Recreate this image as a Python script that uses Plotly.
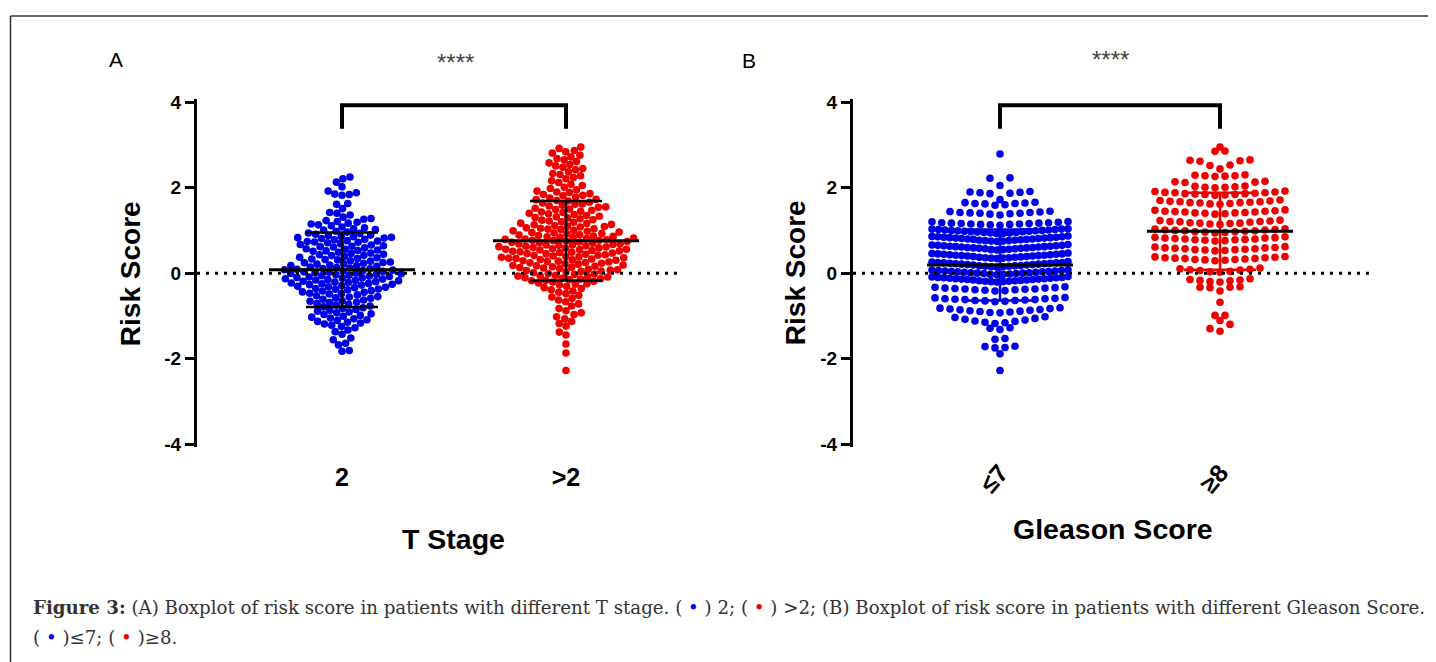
import numpy as np
import plotly.graph_objects as go

W, H = 1436, 662

# ---------------- data ----------------
t_stage_labels = ["2", "&gt;2"]
gleason_labels = ["≤7", "≥8"]
y_tick_values = [-4, -2, 0, 2, 4]
y_tick_text = ["-4", "-2", "0", "2", "4"]

# Panel A: risk score, T stage 2
risk_t_stage_2 = [
    2.25, 2.21, 2.13, 2.02, 1.92, 1.88, 1.85, 1.84, 1.82, 1.63, 1.61, 1.51, 1.42, 1.40,
    1.36, 1.31, 1.28, 1.26, 1.23, 1.21, 1.19, 1.17, 1.15, 1.13, 1.11,
    1.08, 1.06, 1.04, 1.02, 1.01, 0.98, 0.96, 0.94, 0.93, 0.91,
    0.89, 0.88, 0.86, 0.85, 0.84, 0.83, 0.82, 0.81, 0.79, 0.78, 0.76, 0.75, 0.74, 0.73, 0.72, 0.71,
    0.69, 0.67, 0.66, 0.64, 0.63, 0.62, 0.61, 0.59, 0.57, 0.56, 0.54, 0.53, 0.52, 0.51,
    0.49, 0.47, 0.46, 0.44, 0.43, 0.42, 0.41, 0.39, 0.37, 0.36, 0.34, 0.33, 0.32, 0.31,
    0.29, 0.28, 0.26, 0.25, 0.24, 0.23, 0.22, 0.21, 0.19, 0.18, 0.17, 0.16, 0.14, 0.13, 0.12, 0.11, 0.10,
    0.09, 0.08, 0.07, 0.06, 0.05, 0.04, 0.03, 0.02, 0.01, 0.00,
    -0.01, -0.02, -0.03, -0.04, -0.05, -0.06, -0.07, -0.08, -0.09, -0.10,
    -0.11, -0.12, -0.13, -0.14, -0.15, -0.16, -0.17, -0.18, -0.19, -0.20,
    -0.21, -0.22, -0.23, -0.24, -0.25, -0.26, -0.27, -0.28, -0.29,
    -0.31, -0.32, -0.33, -0.34, -0.36, -0.37, -0.38, -0.39,
    -0.41, -0.42, -0.44, -0.45, -0.47, -0.48, -0.49, -0.51, -0.53, -0.55, -0.56, -0.58, -0.59,
    -0.61, -0.63, -0.65, -0.66, -0.68, -0.69, -0.71, -0.73, -0.75, -0.77, -0.79,
    -0.81, -0.83, -0.85, -0.87, -0.89, -0.91, -0.93, -0.95, -0.97, -0.99,
    -1.01, -1.03, -1.05, -1.07, -1.09, -1.11, -1.13, -1.15, -1.17, -1.19,
    -1.22, -1.25, -1.28, -1.33, -1.37, -1.43, -1.52, -1.56, -1.64, -1.68, -1.81, -1.83,
]

# Panel A: risk score, T stage >2
risk_t_stage_gt2 = [
    2.95, 2.92, 2.87, 2.84, 2.81, 2.76, 2.72, 2.68, 2.65, 2.61, 2.58, 2.54, 2.51,
    2.48, 2.45, 2.42, 2.37, 2.33, 2.31, 2.28, 2.24, 2.21, 2.16, 2.12, 2.08, 2.05, 2.01,
    1.98, 1.95, 1.92, 1.90, 1.89, 1.86, 1.84, 1.82, 1.81, 1.78, 1.76, 1.73, 1.72, 1.70,
    1.69, 1.66, 1.64, 1.62, 1.61, 1.59, 1.57, 1.55, 1.54, 1.52, 1.50,
    1.49, 1.47, 1.45, 1.43, 1.42, 1.40, 1.39, 1.37, 1.35, 1.33, 1.32, 1.30,
    1.29, 1.27, 1.25, 1.24, 1.22, 1.20, 1.19, 1.17, 1.16, 1.14, 1.13, 1.11, 1.10,
    1.09, 1.08, 1.06, 1.05, 1.04, 1.03, 1.02, 1.00, 0.99, 0.98, 0.96, 0.95, 0.94, 0.93, 0.92, 0.90,
    0.89, 0.88, 0.87, 0.86, 0.85, 0.84, 0.83, 0.82, 0.81, 0.80,
    0.79, 0.78, 0.77, 0.77, 0.76, 0.75, 0.74, 0.73, 0.72, 0.71, 0.70,
    0.69, 0.68, 0.67, 0.66, 0.66, 0.65, 0.64, 0.63, 0.62, 0.61, 0.60,
    0.59, 0.58, 0.57, 0.56, 0.56, 0.55, 0.54, 0.53, 0.52, 0.51, 0.50,
    0.49, 0.48, 0.47, 0.46, 0.45, 0.44, 0.43, 0.42, 0.41, 0.40,
    0.39, 0.38, 0.37, 0.36, 0.35, 0.34, 0.33, 0.32, 0.31, 0.30,
    0.29, 0.28, 0.27, 0.26, 0.25, 0.24, 0.23, 0.22, 0.21,
    0.19, 0.18, 0.17, 0.16, 0.15, 0.14, 0.13, 0.12, 0.11,
    0.09, 0.08, 0.07, 0.06, 0.05, 0.04, 0.03, 0.01,
    -0.01, -0.02, -0.03, -0.05, -0.06, -0.07, -0.08, -0.09,
    -0.11, -0.12, -0.13, -0.14, -0.15, -0.17, -0.18, -0.19,
    -0.21, -0.23, -0.25, -0.26, -0.28, -0.31, -0.34, -0.36, -0.39,
    -0.42, -0.45, -0.48, -0.52, -0.56, -0.59, -0.63, -0.67, -0.72, -0.77,
    -0.83, -0.88, -0.93, -0.97, -1.02, -1.07, -1.13, -1.18, -1.24, -1.38, -1.45,
    -1.66, -1.87, -2.28,
]

# Panel B: risk score, Gleason <=7 (values listed by the row they are stacked in)
risk_gleason_le7_rows = [
    [2.79],
    [2.05, 2.22, 2.23],
    [1.72, 1.86, 1.87, 1.88, 1.89, 1.90, 1.91],
    [1.59, 1.60, 1.62, 1.63, 1.63, 1.64, 1.65, 1.66],
    [1.36, 1.38, 1.39, 1.40, 1.40, 1.41, 1.42, 1.42, 1.43, 1.44, 1.45],
    [1.12, 1.13, 1.14, 1.14, 1.15, 1.15, 1.16, 1.16, 1.17, 1.17, 1.18, 1.18, 1.19, 1.20, 1.21],
    [0.92, 0.93, 0.94, 0.94, 0.95, 0.95, 0.96, 0.97, 0.97, 0.98, 0.98, 0.99,
     0.99, 1.00, 1.00, 1.01, 1.01, 1.02, 1.02, 1.03, 1.03, 1.04],
    [0.74, 0.75, 0.75, 0.76, 0.76, 0.77, 0.77, 0.78, 0.79, 0.79, 0.80, 0.80,
     0.81, 0.81, 0.82, 0.82, 0.83, 0.83, 0.84, 0.84, 0.85, 0.85, 0.86, 0.87],
    [0.54, 0.55, 0.55, 0.56, 0.57, 0.57, 0.58, 0.58, 0.59, 0.59, 0.60, 0.60,
     0.61, 0.61, 0.62, 0.62, 0.63, 0.63, 0.64, 0.64, 0.65, 0.65, 0.66, 0.67],
    [0.34, 0.35, 0.35, 0.36, 0.36, 0.37, 0.37, 0.38, 0.39, 0.39, 0.40, 0.40,
     0.41, 0.41, 0.42, 0.42, 0.43, 0.43, 0.44, 0.44, 0.45, 0.45, 0.46, 0.47],
    [0.14, 0.15, 0.15, 0.16, 0.16, 0.17, 0.17, 0.18, 0.19, 0.19, 0.20, 0.20,
     0.21, 0.21, 0.22, 0.22, 0.23, 0.23, 0.24, 0.24, 0.25, 0.25, 0.26, 0.27],
    [-0.04, -0.03, -0.03, -0.02, -0.01, -0.01, 0.00, 0.00, 0.01, 0.01, 0.02,
     0.02, 0.03, 0.03, 0.04, 0.04, 0.05, 0.05, 0.06, 0.06, 0.07, 0.08],
    [-0.21, -0.20, -0.20, -0.19, -0.19, -0.18, -0.18, -0.17, -0.16, -0.16, -0.15, -0.15,
     -0.14, -0.14, -0.13, -0.13, -0.12, -0.12, -0.11, -0.11, -0.10, -0.10, -0.09, -0.08],
    [-0.42, -0.41, -0.40, -0.39, -0.39, -0.38, -0.37, -0.37, -0.36, -0.35, -0.35, -0.34, -0.33, -0.32],
    [-0.67, -0.66, -0.65, -0.64, -0.64, -0.63, -0.62, -0.62, -0.61, -0.60, -0.60, -0.59, -0.58, -0.57],
    [-0.93, -0.92, -0.91, -0.90, -0.89, -0.88, -0.87, -0.86, -0.85, -0.84, -0.83, -0.82, -0.81],
    [-1.18, -1.16, -1.15, -1.13, -1.12, -1.10, -1.08, -1.06, -1.04, -1.02],
    [-1.32, -1.29, -1.28],
    [-1.55, -1.53],
    [-1.75, -1.74, -1.72, -1.71],
    [-1.89],
    [-2.28],
]

# Panel B: risk score, Gleason >=8 (values listed by the row they are stacked in)
risk_gleason_ge8_rows = [
    [2.95],
    [2.85, 2.86],
    [2.44, 2.52, 2.53, 2.62, 2.63, 2.64, 2.65],
    [2.26, 2.27, 2.28, 2.28, 2.29, 2.30],
    [2.00, 2.01, 2.01, 2.02, 2.03, 2.04, 2.12, 2.13, 2.14, 2.15],
    [1.82, 1.83, 1.84, 1.84, 1.85, 1.86, 1.86, 1.87, 1.88, 1.88, 1.89, 1.90, 1.91, 1.92],
    [1.61, 1.62, 1.63, 1.64, 1.65, 1.65, 1.66, 1.67, 1.67, 1.68, 1.69, 1.70, 1.71],
    [1.38, 1.39, 1.40, 1.41, 1.41, 1.42, 1.43, 1.43, 1.44, 1.45, 1.45, 1.46, 1.47, 1.48],
    [1.14, 1.15, 1.16, 1.17, 1.17, 1.18, 1.19, 1.20, 1.21, 1.21, 1.22, 1.23, 1.24],
    [0.94, 0.95, 0.96, 0.97, 0.97, 0.98, 0.99, 0.99, 1.00, 1.01, 1.01, 1.02, 1.03, 1.04],
    [0.75, 0.76, 0.77, 0.78, 0.78, 0.79, 0.80, 0.80, 0.81, 0.82, 0.82, 0.83, 0.84, 0.85],
    [0.52, 0.53, 0.54, 0.55, 0.55, 0.56, 0.57, 0.57, 0.58, 0.59, 0.59, 0.60, 0.61, 0.62],
    [0.29, 0.30, 0.31, 0.32, 0.32, 0.33, 0.34, 0.34, 0.35, 0.36, 0.36, 0.37, 0.38, 0.39],
    [0.02, 0.03, 0.04, 0.06, 0.07, 0.08, 0.09, 0.10, 0.12],
    [-0.21, -0.20, -0.18, -0.17, -0.16, -0.15, -0.13],
    [-0.42, -0.34, -0.33, -0.33, -0.32],
    [-0.68],
    [-0.99, -0.99],
    [-1.11],
    [-1.36, -1.30, -1.20],
]

# mean and SD lines
t_stage_mean = [0.08, 0.76]
t_stage_sd = [0.87, 0.93]
gleason_mean = [0.19, 0.98]
gleason_sd = [0.83, 0.90]

# ---------------- geometry & style ----------------
BLUE = "#0000e6"
RED = "#ee0000"
FONT = "Arial, Liberation Sans, sans-serif"
SERIF = "DejaVu Serif, serif"

# calibration of the photographed page (page offset / scale)
XOFF, YS, YOFF = 8.0, 0.978, 12.7


def fx(p):
    return (p - XOFF) / W


def fy(p):
    return 1 - ((p - YOFF) / YS) / H


Y4_PX, YM4_PX = 100.0, 442.0
PPU_Y = (YM4_PX - Y4_PX) / 8.0
PAD = 0.07
Y_RANGE = [-4 - PAD, 4 + PAD]
Y_DOMAIN = [fy(YM4_PX + PAD * PPU_Y), fy(Y4_PX - PAD * PPU_Y)]

panels = [
    dict(left=197, right=678, c0=342, c1=566),
    dict(left=853, right=1370, c0=1000, c1=1220),
]
for p in panels:
    p["ppu"] = p["c1"] - p["c0"]
    p["range"] = [(p["left"] - p["c0"]) / p["ppu"], (p["right"] - p["c0"]) / p["ppu"]]

DOT = 7.6


def swarm_offsets(values, d=7.3):
    y = np.asarray(values, dtype=float) * PPU_Y
    order = np.argsort(y, kind="stable")
    px_, py_ = [], []
    xs = np.zeros(len(y))
    flip = 1
    for i in order:
        yi = y[i]
        nb = [(a, b) for a, b in zip(px_, py_) if abs(b - yi) < d]
        cands = [0.0]
        for a, b in nb:
            dx = np.sqrt(d * d - (b - yi) ** 2)
            cands += [a - dx, a + dx]
        cands.sort(key=lambda c: (round(abs(c), 4), c * flip))
        for c in cands:
            if all((c - a) ** 2 + (yi - b) ** 2 >= d * d - 1e-6 for a, b in nb):
                xs[i] = c
                break
        flip = -flip
        px_.append(xs[i])
        py_.append(yi)
    return xs


def row_layout(rows, spacing=10.0, max_span=136.0):
    xs, ys = [], []
    for row in rows:
        vals = sorted(row)
        n = len(vals)
        s = spacing if n == 1 else min(spacing, max_span / (n - 1))
        if n % 2:
            slots = [0] + [k * sg for k in range(1, n) for sg in (-1, 1)]
        else:
            slots = [(k + 0.5) * sg for k in range(n) for sg in (-1, 1)]
        for v, sl in zip(vals, slots[:n]):
            xs.append(sl * s)
            ys.append(v)
    return np.array(xs), np.array(ys)


fig = go.Figure()


def add_points(xs_px, ys, cat, panel, color, axis_suffix):
    fig.add_trace(go.Scatter(
        x=cat + np.asarray(xs_px) / panel["ppu"], y=ys, mode="markers",
        marker=dict(size=DOT, color=color, line=dict(width=0)),
        xaxis="x" + axis_suffix, yaxis="y" + axis_suffix, hoverinfo="y", showlegend=False))


def add_stats(cat, m, s, panel, sd_color, axis_suffix):
    hm = 73.0 / panel["ppu"]
    hs = 36.0 / panel["ppu"]
    fig.add_trace(go.Scatter(
        x=[cat - hs, cat + hs, None, cat, cat, None, cat - hs, cat + hs],
        y=[m + s, m + s, None, m + s, m - s, None, m - s, m - s],
        mode="lines", line=dict(color=sd_color, width=2.5),
        xaxis="x" + axis_suffix, yaxis="y" + axis_suffix, hoverinfo="skip", showlegend=False))
    fig.add_trace(go.Scatter(
        x=[cat - hm, cat + hm], y=[m, m], mode="lines", line=dict(color="black", width=3),
        xaxis="x" + axis_suffix, yaxis="y" + axis_suffix, hoverinfo="skip", showlegend=False))


pA, pB = panels
add_points(swarm_offsets(risk_t_stage_2), risk_t_stage_2, 0, pA, BLUE, "")
add_points(swarm_offsets(risk_t_stage_gt2), risk_t_stage_gt2, 1, pA, RED, "")
add_stats(0, t_stage_mean[0], t_stage_sd[0], pA, "black", "")
add_stats(1, t_stage_mean[1], t_stage_sd[1], pA, "black", "")

xb, yb = row_layout(risk_gleason_le7_rows)
add_points(xb, yb, 0, pB, BLUE, "2")
xr, yr = row_layout(risk_gleason_ge8_rows)
add_points(xr, yr, 1, pB, RED, "2")
add_stats(0, gleason_mean[0], gleason_sd[0], pB, BLUE, "2")
add_stats(1, gleason_mean[1], gleason_sd[1], pB, RED, "2")

yaxis_style = dict(
    domain=Y_DOMAIN, range=Y_RANGE, tickvals=y_tick_values, ticktext=y_tick_text,
    showline=True, linewidth=3, linecolor="black", ticks="outside", ticklen=9,
    tickwidth=3, tickcolor="black",
    tickfont=dict(family=FONT, size=19, color="black", weight="bold"),
    showgrid=False, zeroline=False, fixedrange=True,
)
xaxis_style = dict(
    tickvals=[0, 1], showline=False, ticks="", showgrid=False, zeroline=False,
    tickfont=dict(family=FONT, size=25, color="black", weight="bold"), fixedrange=True,
)

shapes = []
for suffix, p in (("", pA), ("2", pB)):
    shapes.append(dict(type="line", xref="x" + suffix, yref="y" + suffix,
                       x0=p["range"][0], x1=p["range"][1], y0=0, y1=0,
                       line=dict(color="black", width=3, dash="3px,6px")))
    shapes.append(dict(type="path", xref="x" + suffix, yref="y" + suffix,
                       path="M 0,3.38 L 0,3.93 L 1,3.93 L 1,3.38",
                       line=dict(color="black", width=4)))
# frame around the figure
shapes.append(dict(type="line", xref="paper", yref="paper", x0=fx(10.5), x1=1.01,
                   y0=1 - 1.0 / H, y1=1 - 1.0 / H, line=dict(color="#333", width=1.5)))
shapes.append(dict(type="line", xref="paper", yref="paper", x0=fx(10.5), x1=fx(10.5),
                   y0=1 - 1.0 / H, y1=-0.01, line=dict(color="#333", width=1.5)))


def ann(x, y, text, size, family=FONT, color="black", angle=0, xanchor="center"):
    return dict(x=fx(x), y=fy(y), xref="paper", yref="paper", text=text, showarrow=False,
                font=dict(family=family, size=size, color=color), textangle=angle,
                xanchor=xanchor, yanchor="middle")


annotations = [
    ann(116, 57, "A", 21),
    ann(749, 58, "B", 21),
    ann(455, 60, "****", 24, color="#444"),
    ann(1110, 57, "****", 24, color="#444"),
    ann(130, 271, "<b>Risk Score</b>", 28, angle=-90),
    ann(795, 271, "<b>Risk Score</b>", 28, angle=-90),
    ann(453, 537, "<b>T Stage</b>", 28.5),
    ann(1113, 527, "<b>Gleason Score</b>", 28.5),
    ann(31, 606,
        "<b>Figure 3:</b> (A) Boxplot of risk score in patients with different T stage. "
        "( <span style='color:" + BLUE + "'>•</span> ) 2; ( <span style='color:" + RED + "'>•</span> ) &gt;2; "
        "(B) Boxplot of risk score in patients with different Gleason Score.",
        18.2, family=SERIF, color="#333", xanchor="left"),
    ann(31, 636,
        "( <span style='color:" + BLUE + "'>•</span> )≤7; ( <span style='color:" + RED + "'>•</span> )≥8.",
        18.2, family=SERIF, color="#333", xanchor="left"),
]

fig.update_layout(
    width=W, height=H, margin=dict(l=0, r=0, t=0, b=0),
    paper_bgcolor="white", plot_bgcolor="white", showlegend=False,
    xaxis=dict(xaxis_style, domain=[fx(pA["left"]), fx(pA["right"])], range=pA["range"],
               ticktext=t_stage_labels, anchor="y", ticklabelstandoff=13),
    yaxis=dict(yaxis_style, anchor="x"),
    xaxis2=dict(xaxis_style, domain=[fx(pB["left"]), fx(pB["right"])], range=pB["range"],
                ticktext=gleason_labels, anchor="y2", tickangle=-50, ticklabelstandoff=5),
    yaxis2=dict(yaxis_style, anchor="x2"),
    shapes=shapes, annotations=annotations,
)

fig.write_html("out.html")
